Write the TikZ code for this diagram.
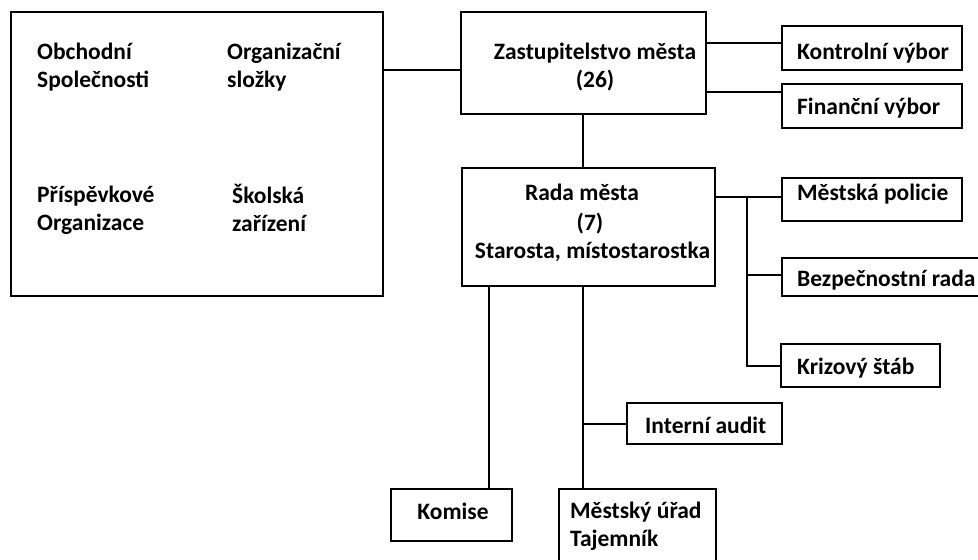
\documentclass[tikz,border=0pt]{standalone}
\usepackage{fontspec}
\setmainfont{Carlito}
\begin{document}
\begin{tikzpicture}[x=1pt,y=-1pt,
  box/.style={draw,line width=2pt,inner sep=0pt,minimum width=#1},
  txt/.style={inner sep=0pt,font=\bfseries\fontsize{23.5}{28}\selectfont},
  conn/.style={line width=2pt}]
\useasboundingbox (0,0) rectangle (978,560);
% boxes
\node[box=372,minimum height=284] (org) at (197,154) {};
\node[box=245,minimum height=102] (zast) at (583.5,63) {};
\node[box=180,minimum height=44] (kontrol) at (872,48) {};
\node[box=180,minimum height=44] (financ) at (872,106) {};
\node[box=253,minimum height=118] (rada) at (588.5,227) {};
\node[box=180,minimum height=43] (policie) at (872,199.5) {};
\node[box=210,minimum height=38] (bezpec) at (887,277) {};
\node[box=159,minimum height=43] (krize) at (860.5,365.5) {};
\node[box=155,minimum height=41] (audit) at (704.5,423.5) {};
\node[box=121,minimum height=52] (komise) at (451.5,515) {};
\node[box=157,minimum height=86] (urad) at (637.5,532) {};
% texts
\node[txt,align=left,anchor=west] (t-obch) at (37,67) {Obchodní\\Společnosti};
\node[txt,align=left,anchor=west] (t-orgs) at (227,67) {Organizační\\složky};
\node[txt,align=left,anchor=west] (t-prisp) at (37,210) {Příspěvkové\\Organizace};
\node[txt,align=left,anchor=west] (t-skol) at (232,208) {Školská\\zařízení};
\node[txt,align=center] (t-zast) at (595,67) {Zastupitelstvo města\\(26)};
\node[txt,anchor=base] (t-rada1) at (582,200.5) {Rada města};
\node[txt,anchor=base] (t-rada2) at (590,230.5) {(7)};
\node[txt,anchor=base] (t-rada3) at (592.5,258.5) {Starosta, místostarostka};
\node[txt,anchor=west] (t-kontrol) at (797,53) {Kontrolní výbor};
\node[txt,anchor=west] (t-financ) at (797,108) {Finanční výbor};
\node[txt,anchor=west] (t-policie) at (797,194) {Městská policie};
\node[txt,anchor=west] (t-bezpec) at (797,280) {Bezpečnostní rada};
\node[txt,anchor=west] (t-krize) at (797,368) {Krizový štáb};
\node[txt,anchor=west] (t-audit) at (645,425) {Interní audit};
\node[txt] (t-komise) at (453,511) {Komise};
\node[txt,align=left,anchor=west] (t-urad) at (570,526) {Městský úřad\\Tajemník};
% connectors
\draw[conn] ([yshift=84pt]org.east) -- ([yshift=-7pt]zast.west);
\draw[conn] ([yshift=20pt]zast.east) -- ([yshift=20pt]zast.east -| kontrol.west);
\draw[conn] ([yshift=-29pt]zast.east) -- ([yshift=-29pt]zast.east -| financ.west);
\draw[conn] ([xshift=-0.5pt]zast.south) -- ([xshift=-0.5pt]zast.south |- rada.north);
\draw[conn] ([yshift=30pt]rada.east) -- ([yshift=30pt]rada.east -| policie.west);
\coordinate (bus) at ([yshift=30pt,xshift=31pt]rada.east);
\draw[conn] (bus) |- (krize.west);
\draw[conn] ([yshift=2pt]bus |- bezpec.west) -- ([yshift=2pt]bezpec.west);
\draw[conn] (komise.north -| 489,0) -- (rada.south -| 489,0);
\draw[conn] (urad.north -| 583,0) -- (rada.south -| 583,0);
\coordinate (ajoint) at (583,424);
\draw[conn] (ajoint) -- (ajoint -| audit.west);
\end{tikzpicture}
\end{document}
